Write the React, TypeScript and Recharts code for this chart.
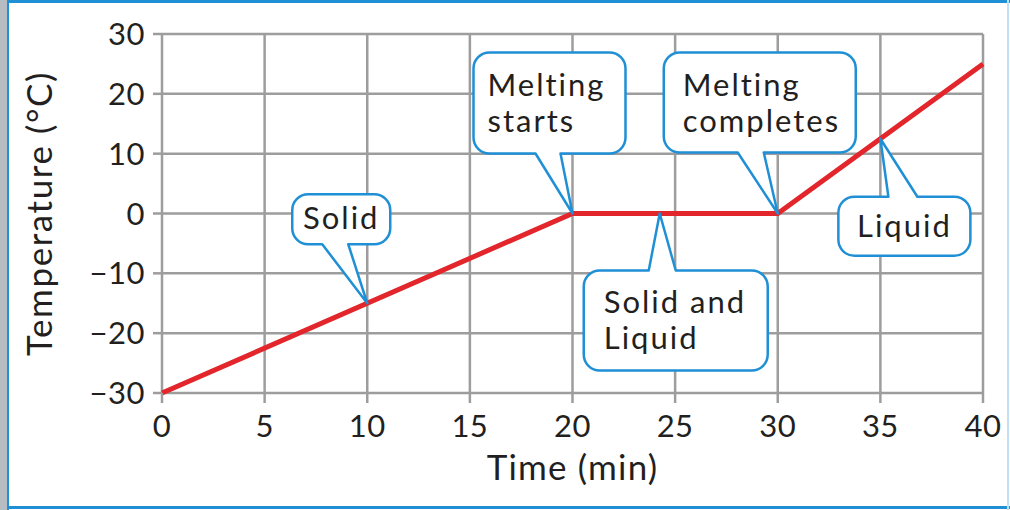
import React from 'react';
import {
  LineChart,
  Line,
  XAxis,
  YAxis,
  CartesianGrid,
  ReferenceDot,
} from 'recharts';

const times = [0, 20, 30, 40];
const temps = [-30, 0, 0, 25];
const xTicks = [0, 5, 10, 15, 20, 25, 30, 35, 40];
const yTicks = [-30, -20, -10, 0, 10, 20, 30];

const calloutLabels = [['Solid'], ['Melting', 'starts'], ['Melting', 'completes'], ['Solid and', 'Liquid'], ['Liquid']];
const calloutX = [10, 20, 30, 24.25, 35];
const calloutY = [-15, 0, 0, 0, 12.5];

// box geometry relative to the tip of each callout (pixels)
const boxes = [
  { left: -75, top: -109, w: 98, h: 50, tl: -45, tr: -19, side: 'bottom', tx: 49, ty: 35, align: 'middle' },
  { left: -99, top: -161, w: 152, h: 101, tl: -37, tr: -12, side: 'bottom', tx: 14, ty: 43, align: 'start' },
  { left: -114, top: -161, w: 192, h: 100, tl: -40, tr: -14, side: 'bottom', tx: 19, ty: 43, align: 'start' },
  { left: -76, top: 57, w: 184, h: 100, tl: -11, tr: 16, side: 'top', tx: 20, ty: 42, align: 'start' },
  { left: -42, top: 58, w: 132, h: 59, tl: 8, tr: 37, side: 'top', tx: 66, ty: 40, align: 'middle' },
];

const data = times.map((t, i) => ({ time: t, temp: temps[i] }));

const FONT = 'Lato, "Open Sans", sans-serif';
const BLUE = '#1f8fd6';
const GRID = '#9d9d9d';
const INK = '#231f20';

function boxPath(cx: number, cy: number, b: typeof boxes[number]) {
  const r = 16;
  const x = cx + b.left;
  const y = cy + b.top;
  const { w, h } = b;
  const tl = cx + b.tl;
  const tr = cx + b.tr;
  if (b.side === 'bottom') {
    return `M${x + r},${y} H${x + w - r} A${r},${r} 0 0 1 ${x + w},${y + r} V${y + h - r} A${r},${r} 0 0 1 ${x + w - r},${y + h} H${tr} L${cx},${cy} L${tl},${y + h} H${x + r} A${r},${r} 0 0 1 ${x},${y + h - r} V${y + r} A${r},${r} 0 0 1 ${x + r},${y} Z`;
  }
  return `M${x + r},${y} H${tl} L${cx},${cy} L${tr},${y} H${x + w - r} A${r},${r} 0 0 1 ${x + w},${y + r} V${y + h - r} A${r},${r} 0 0 1 ${x + w - r},${y + h} H${x + r} A${r},${r} 0 0 1 ${x},${y + h - r} V${y + r} A${r},${r} 0 0 1 ${x + r},${y} Z`;
}

function makeCallout(i: number) {
  return (props: any) => {
    const { cx, cy } = props;
    const b = boxes[i];
    const lines = calloutLabels[i];
    return (
      <g>
        <path d={boxPath(cx, cy, b)} fill="#fff" stroke={BLUE} strokeWidth={2.5} strokeLinejoin="round" />
        {lines.map((ln, k) => (
          <text
            key={k}
            x={cx + b.left + b.tx}
            y={cy + b.top + b.ty + k * 36}
            textAnchor={b.align as any}
            fontFamily={FONT}
            fontSize={31}
            letterSpacing={2}
            fill={INK}
          >
            {ln}
          </text>
        ))}
      </g>
    );
  };
}

const fmt = (v: number) => String(v).replace('-', '\u2212');

export default function App() {
  return (
    <div
      style={{
        position: 'absolute',
        left: 0,
        top: 0,
        width: 1010,
        height: 510,
        background: '#fff',
        overflow: 'hidden',
        fontVariantLigatures: 'none',
      }}
    >
      <div style={{ position: 'absolute', left: 0, top: 0, width: 7, height: 510, background: '#b7bcc2' }} />
      <div style={{ position: 'absolute', left: 7, top: 0, width: 2, height: 510, background: BLUE }} />
      <div style={{ position: 'absolute', left: 7, top: 0, width: 1003, height: 3, background: BLUE }} />
      <div style={{ position: 'absolute', left: 7, top: 506, width: 1003, height: 3, background: BLUE }} />
      <div style={{ position: 'absolute', left: 1007, top: 0, width: 2, height: 510, background: '#bfe1f5' }} />
      <div style={{ position: 'absolute', left: 0, top: 0 }}>
        <LineChart width={1010} height={510} data={data} margin={{ top: 34, right: 27, left: 0, bottom: 0 }}>
          <CartesianGrid stroke={GRID} strokeWidth={2.5} />
          <XAxis
            dataKey="time"
            type="number"
            domain={[0, 40]}
            ticks={xTicks}
            interval={0}
            height={117}
            axisLine={false}
            tickSize={10}
            tickMargin={12}
            tickLine={{ stroke: GRID, strokeWidth: 2.5 }}
            tick={{ fill: INK, fontSize: 31, fontFamily: FONT, letterSpacing: 0.5 }}
            label={{
              value: 'Time (min)',
              position: 'insideBottom',
              offset: 30,
              fill: INK,
              fontSize: 35,
              fontFamily: FONT,
              letterSpacing: 1.2,
            }}
          />
          <YAxis
            type="number"
            domain={[-30, 30]}
            ticks={yTicks}
            interval={0}
            width={162}
            axisLine={false}
            tickSize={9}
            tickMargin={8}
            tickFormatter={fmt}
            tickLine={{ stroke: GRID, strokeWidth: 2.5 }}
            tick={{ fill: INK, fontSize: 31, fontFamily: FONT, letterSpacing: 0.5 }}
            label={{
              value: 'Temperature (\u00b0C)',
              angle: -90,
              position: 'insideLeft',
              offset: 40,
              fill: INK,
              fontSize: 35,
              fontFamily: FONT,
              letterSpacing: 1.6,
              style: { textAnchor: 'middle' },
            }}
          />
          <Line type="linear" dataKey="temp" stroke="#e2262b" strokeWidth={5} dot={false} isAnimationActive={false} />
          {calloutX.map((x, i) => (
            <ReferenceDot key={i} x={x} y={calloutY[i]} r={0} ifOverflow="visible" shape={makeCallout(i)} />
          ))}
        </LineChart>
      </div>
    </div>
  );
}
